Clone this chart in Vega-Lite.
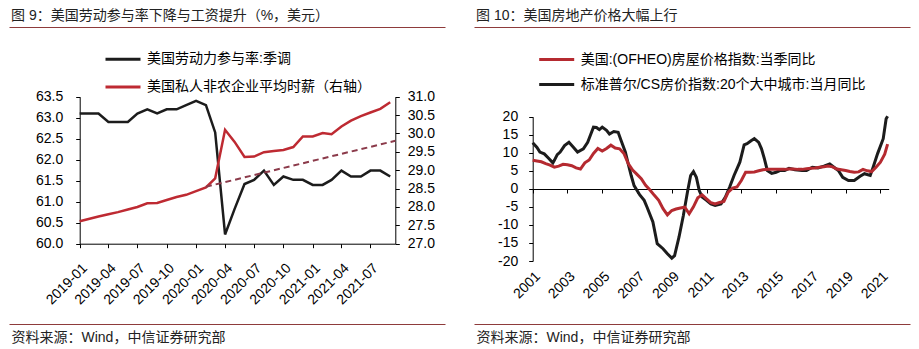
{
  "$schema": "https://vega.github.io/schema/vega-lite/v6.json",
  "padding": {"left": 8, "top": 8, "right": 5, "bottom": 5},
  "background": "white",
  "config": {
    "font": "Liberation Sans, Noto Sans CJK SC",
    "locale": {"number": {"decimal": ".", "thousands": ",", "grouping": [3], "currency": ["$", ""], "minus": "-"}},
    "view": {"stroke": "#8E3B3B", "strokeDash": [436, 297], "strokeWidth": 1},
    "axis": {"grid": false, "domainColor": "#000", "tickColor": "#000", "labelColor": "#000", "labelFontSize": 14, "tickSize": 4, "labelOverlap": false, "labelFlush": false, "titleFontWeight": "normal", "titleFontSize": 14, "titleColor": "#222"},
    "title": {"fontSize": 14, "fontWeight": "normal", "color": "#222", "anchor": "start", "frame": "group", "offset": 4, "dx": 2},
    "legend": {"orient": "none", "title": null, "symbolType": "stroke", "symbolSize": 1225, "symbolStrokeWidth": 3, "labelFontSize": 14, "labelColor": "#000", "labelOffset": 5, "labelLimit": 500, "clipHeight": 16, "padding": 0}
  },
  "datasets": {
    "lfp": [
      {"date": "2019/01/01", "lfpr": 63.1, "wage": 27.61},
      {"date": "2019/02/01", "lfpr": 63.1, "wage": 27.68},
      {"date": "2019/03/01", "lfpr": 63.1, "wage": 27.74},
      {"date": "2019/04/01", "lfpr": 62.9, "wage": 27.80},
      {"date": "2019/05/01", "lfpr": 62.9, "wage": 27.86},
      {"date": "2019/06/01", "lfpr": 62.9, "wage": 27.93},
      {"date": "2019/07/01", "lfpr": 63.1, "wage": 28.00},
      {"date": "2019/08/01", "lfpr": 63.2, "wage": 28.10},
      {"date": "2019/09/01", "lfpr": 63.1, "wage": 28.11},
      {"date": "2019/10/01", "lfpr": 63.2, "wage": 28.19},
      {"date": "2019/11/01", "lfpr": 63.2, "wage": 28.27},
      {"date": "2019/12/01", "lfpr": 63.3, "wage": 28.33},
      {"date": "2020/01/01", "lfpr": 63.4, "wage": 28.43},
      {"date": "2020/02/01", "lfpr": 63.3, "wage": 28.53},
      {"date": "2020/03/01", "lfpr": 62.65, "wage": 28.78},
      {"date": "2020/04/01", "lfpr": 60.22, "wage": 30.10},
      {"date": "2020/05/01", "lfpr": 60.83, "wage": 29.77},
      {"date": "2020/06/01", "lfpr": 61.42, "wage": 29.36},
      {"date": "2020/07/01", "lfpr": 61.52, "wage": 29.37},
      {"date": "2020/08/01", "lfpr": 61.74, "wage": 29.49},
      {"date": "2020/09/01", "lfpr": 61.40, "wage": 29.52},
      {"date": "2020/10/01", "lfpr": 61.60, "wage": 29.55},
      {"date": "2020/11/01", "lfpr": 61.52, "wage": 29.63},
      {"date": "2020/12/01", "lfpr": 61.52, "wage": 29.92},
      {"date": "2021/01/01", "lfpr": 61.40, "wage": 29.92},
      {"date": "2021/02/01", "lfpr": 61.40, "wage": 30.01},
      {"date": "2021/03/01", "lfpr": 61.52, "wage": 29.98},
      {"date": "2021/04/01", "lfpr": 61.74, "wage": 30.19},
      {"date": "2021/05/01", "lfpr": 61.60, "wage": 30.35},
      {"date": "2021/06/01", "lfpr": 61.60, "wage": 30.47},
      {"date": "2021/07/01", "lfpr": 61.74, "wage": 30.57},
      {"date": "2021/08/01", "lfpr": 61.74, "wage": 30.67},
      {"date": "2021/09/01", "lfpr": 61.60, "wage": 30.85}
    ],
    "trend": [
      {"date": "2020/02/01", "wage": 28.55},
      {"date": "2021/09/17", "wage": 29.80}
    ],
    "cs": [
      {"date": "2001/01/01", "v": 12.8}, {"date": "2001/04/01", "v": 11.5}, {"date": "2001/06/01", "v": 10.2},
      {"date": "2001/09/01", "v": 9.7}, {"date": "2001/12/01", "v": 8.5}, {"date": "2002/03/01", "v": 7.2},
      {"date": "2002/04/01", "v": 7.9}, {"date": "2002/06/01", "v": 9.5}, {"date": "2002/08/01", "v": 10.2},
      {"date": "2002/11/01", "v": 12.0}, {"date": "2003/02/01", "v": 12.9}, {"date": "2003/05/01", "v": 11.6},
      {"date": "2003/08/01", "v": 10.2}, {"date": "2003/12/01", "v": 11.1}, {"date": "2004/03/01", "v": 12.9},
      {"date": "2004/05/01", "v": 15.0}, {"date": "2004/07/01", "v": 17.1}, {"date": "2004/09/01", "v": 17.0},
      {"date": "2004/11/01", "v": 16.4}, {"date": "2005/01/01", "v": 17.1}, {"date": "2005/04/01", "v": 16.2},
      {"date": "2005/06/01", "v": 15.2}, {"date": "2005/09/01", "v": 15.9}, {"date": "2005/12/01", "v": 15.7},
      {"date": "2006/02/01", "v": 13.4}, {"date": "2006/05/01", "v": 10.2}, {"date": "2006/07/01", "v": 6.9},
      {"date": "2006/09/01", "v": 3.7}, {"date": "2006/11/01", "v": 0.9}, {"date": "2007/03/01", "v": -1.7},
      {"date": "2007/06/01", "v": -3.2}, {"date": "2007/08/01", "v": -5.1}, {"date": "2007/12/01", "v": -9.2},
      {"date": "2008/03/01", "v": -15.2}, {"date": "2008/07/01", "v": -16.6}, {"date": "2008/10/01", "v": -18.0},
      {"date": "2009/01/01", "v": -19.2}, {"date": "2009/03/01", "v": -18.5}, {"date": "2009/06/01", "v": -13.4},
      {"date": "2009/09/01", "v": -7.4}, {"date": "2009/12/01", "v": -0.5}, {"date": "2010/02/01", "v": 3.7},
      {"date": "2010/04/01", "v": 4.8}, {"date": "2010/06/01", "v": 3.2}, {"date": "2010/08/01", "v": -0.5},
      {"date": "2010/10/01", "v": -2.3}, {"date": "2011/01/01", "v": -3.2}, {"date": "2011/04/01", "v": -4.2},
      {"date": "2011/07/01", "v": -4.6}, {"date": "2011/11/01", "v": -4.2}, {"date": "2012/02/01", "v": -2.3},
      {"date": "2012/05/01", "v": 0.5}, {"date": "2012/08/01", "v": 3.7}, {"date": "2012/12/01", "v": 7.4},
      {"date": "2013/03/01", "v": 12.2}, {"date": "2013/05/01", "v": 12.5}, {"date": "2013/08/01", "v": 13.4},
      {"date": "2013/10/01", "v": 13.9}, {"date": "2014/01/01", "v": 12.9}, {"date": "2014/03/01", "v": 11.1},
      {"date": "2014/05/01", "v": 8.3}, {"date": "2014/07/01", "v": 5.1}, {"date": "2014/10/01", "v": 4.3},
      {"date": "2015/01/01", "v": 4.6}, {"date": "2015/04/01", "v": 5.1}, {"date": "2015/07/01", "v": 5.1},
      {"date": "2015/10/01", "v": 5.7}, {"date": "2016/02/01", "v": 5.3}, {"date": "2016/07/01", "v": 5.1},
      {"date": "2016/10/01", "v": 5.1}, {"date": "2017/02/01", "v": 6.0}, {"date": "2017/06/01", "v": 5.8},
      {"date": "2017/10/01", "v": 6.3}, {"date": "2018/02/01", "v": 6.9}, {"date": "2018/05/01", "v": 6.0},
      {"date": "2018/08/01", "v": 5.1}, {"date": "2018/11/01", "v": 3.2}, {"date": "2019/03/01", "v": 2.3},
      {"date": "2019/07/01", "v": 2.3}, {"date": "2019/11/01", "v": 3.5}, {"date": "2020/02/01", "v": 4.2},
      {"date": "2020/06/01", "v": 3.7}, {"date": "2020/08/01", "v": 6.0}, {"date": "2020/11/01", "v": 9.7},
      {"date": "2021/03/01", "v": 13.9}, {"date": "2021/05/01", "v": 19.4}, {"date": "2021/06/01", "v": 20.1}
    ],
    "ofheo": [
      {"date": "2001/01/01", "v": 7.9}, {"date": "2001/04/01", "v": 7.7}, {"date": "2001/07/01", "v": 7.5}, {"date": "2001/10/01", "v": 7.0},
      {"date": "2002/01/01", "v": 6.6}, {"date": "2002/04/01", "v": 6.0}, {"date": "2002/07/01", "v": 6.3}, {"date": "2002/10/01", "v": 6.8},
      {"date": "2003/01/01", "v": 6.7}, {"date": "2003/04/01", "v": 6.4}, {"date": "2003/07/01", "v": 5.8}, {"date": "2003/10/01", "v": 5.5},
      {"date": "2004/01/01", "v": 7.2}, {"date": "2004/04/01", "v": 8.0}, {"date": "2004/07/01", "v": 9.8}, {"date": "2004/10/01", "v": 11.2},
      {"date": "2005/01/01", "v": 10.5}, {"date": "2005/04/01", "v": 11.2}, {"date": "2005/07/01", "v": 12.1}, {"date": "2005/10/01", "v": 11.3},
      {"date": "2006/01/01", "v": 11.1}, {"date": "2006/04/01", "v": 9.8}, {"date": "2006/07/01", "v": 7.0}, {"date": "2006/10/01", "v": 5.2},
      {"date": "2007/01/01", "v": 4.0}, {"date": "2007/04/01", "v": 2.8}, {"date": "2007/07/01", "v": 1.0}, {"date": "2007/10/01", "v": -0.3},
      {"date": "2008/01/01", "v": -1.8}, {"date": "2008/04/01", "v": -3.2}, {"date": "2008/07/01", "v": -5.5}, {"date": "2008/10/01", "v": -7.2},
      {"date": "2009/01/01", "v": -6.0}, {"date": "2009/04/01", "v": -5.6}, {"date": "2009/07/01", "v": -5.3}, {"date": "2009/10/01", "v": -5.1},
      {"date": "2010/01/01", "v": -6.9}, {"date": "2010/04/01", "v": -5.0}, {"date": "2010/07/01", "v": -2.5}, {"date": "2010/10/01", "v": -1.7},
      {"date": "2011/01/01", "v": -2.8}, {"date": "2011/04/01", "v": -3.8}, {"date": "2011/07/01", "v": -4.2}, {"date": "2011/10/01", "v": -3.8},
      {"date": "2012/01/01", "v": -3.5}, {"date": "2012/04/01", "v": -0.9}, {"date": "2012/07/01", "v": 0.2}, {"date": "2012/10/01", "v": 0.5},
      {"date": "2013/01/01", "v": 2.3}, {"date": "2013/04/01", "v": 4.6}, {"date": "2013/07/01", "v": 4.6}, {"date": "2013/10/01", "v": 4.7},
      {"date": "2014/01/01", "v": 5.0}, {"date": "2014/04/01", "v": 5.3}, {"date": "2014/07/01", "v": 5.4}, {"date": "2014/10/01", "v": 5.4},
      {"date": "2015/01/01", "v": 5.4}, {"date": "2015/04/01", "v": 5.4}, {"date": "2015/07/01", "v": 5.4}, {"date": "2015/10/01", "v": 5.5},
      {"date": "2016/01/01", "v": 5.5}, {"date": "2016/04/01", "v": 5.4}, {"date": "2016/07/01", "v": 5.4}, {"date": "2016/10/01", "v": 5.6},
      {"date": "2017/01/01", "v": 5.7}, {"date": "2017/04/01", "v": 5.8}, {"date": "2017/07/01", "v": 6.0}, {"date": "2017/10/01", "v": 6.1},
      {"date": "2018/01/01", "v": 6.3}, {"date": "2018/04/01", "v": 6.1}, {"date": "2018/07/01", "v": 5.5}, {"date": "2018/10/01", "v": 5.3},
      {"date": "2019/01/01", "v": 5.1}, {"date": "2019/04/01", "v": 4.8}, {"date": "2019/07/01", "v": 4.6}, {"date": "2019/10/01", "v": 4.7},
      {"date": "2020/01/01", "v": 5.4}, {"date": "2020/04/01", "v": 5.0}, {"date": "2020/07/01", "v": 4.8}, {"date": "2020/10/01", "v": 6.0},
      {"date": "2021/01/01", "v": 7.4}, {"date": "2021/04/01", "v": 9.6}, {"date": "2021/06/01", "v": 12.4}
    ]
  },
  "hconcat": [
    {
      "width": 436,
      "height": 297,
      "title": {"text": "图 9：美国劳动参与率下降与工资提升（%，美元）"},
      "layer": [
        {
          "data": {"name": "lfp"},
          "mark": {"type": "line", "strokeWidth": 2.5},
          "encoding": {
            "x": {
              "field": "date", "type": "temporal",
              "scale": {"domain": [{"year": 2019, "month": 1, "date": 1}, {"year": 2021, "month": 9, "date": 17}], "range": [70.7, 386.3], "nice": false},
              "axis": {
                "values": [
                  {"year": 2019, "month": 1, "date": 1}, {"year": 2019, "month": 4, "date": 1}, {"year": 2019, "month": 7, "date": 1}, {"year": 2019, "month": 10, "date": 1},
                  {"year": 2020, "month": 1, "date": 1}, {"year": 2020, "month": 4, "date": 1}, {"year": 2020, "month": 7, "date": 1}, {"year": 2020, "month": 10, "date": 1},
                  {"year": 2021, "month": 1, "date": 1}, {"year": 2021, "month": 4, "date": 1}, {"year": 2021, "month": 7, "date": 1}
                ],
                "format": "%Y-%m", "labelAngle": -45, "offset": -80.3, "labelPadding": 13, "labelOverlap": false,
                "title": "资料来源：Wind，中信证券研究部", "titleX": 2, "titleY": 94, "titleAlign": "left", "titleBaseline": "middle", "titleAnchor": "start"
              }
            },
            "y": {
              "field": "lfpr", "type": "quantitative",
              "scale": {"domain": [60, 63.5], "range": [216.7, 69.7], "nice": false, "zero": false},
              "axis": {"values": [60, 60.5, 61, 61.5, 62, 62.5, 63, 63.5], "format": ".1f", "offset": -70.7, "title": null, "labelPadding": 13, "orient": "left", "labelOverlap": false}
            },
            "color": {
              "datum": "美国劳动力参与率:季调", "type": "nominal",
              "scale": {"domain": ["美国劳动力参与率:季调", "美国私人非农企业平均时薪（右轴）"], "range": ["#1c1c1c", "#BE2A32"]},
              "legend": {"legendX": 95, "legendY": 24.3, "rowPadding": 11.7}
            }
          }
        },
        {
          "layer": [
            {
              "data": {"name": "lfp"},
              "mark": {"type": "line", "strokeWidth": 2.5},
              "encoding": {
                "x": {"field": "date", "type": "temporal"},
                "y": {
                  "field": "wage", "type": "quantitative",
                  "scale": {"domain": [27, 31], "range": [216.7, 69.7], "nice": false, "zero": false},
                  "axis": {"values": [27, 27.5, 28, 28.5, 29, 29.5, 30, 30.5, 31], "format": ".1f", "offset": -49.7, "title": null, "labelPadding": 8, "orient": "right", "labelOverlap": false}
                },
                "color": {"datum": "美国私人非农企业平均时薪（右轴）", "type": "nominal"}
              }
            },
            {
              "data": {"name": "trend"},
              "mark": {"type": "line", "strokeWidth": 2, "strokeDash": [6, 4], "color": "#8B3A4A"},
              "encoding": {
                "x": {"field": "date", "type": "temporal"},
                "y": {
                  "field": "wage", "type": "quantitative",
                  "axis": {"values": [27, 27.5, 28, 28.5, 29, 29.5, 30, 30.5, 31], "format": ".1f", "offset": -49.7, "title": null, "labelPadding": 8, "orient": "right", "labelOverlap": false}
                }
              }
            }
          ]
        }
      ],
      "resolve": {"scale": {"y": "independent"}}
    },
    {
      "width": 436,
      "height": 297,
      "title": {"text": "图 10：美国房地产价格大幅上行"},
      "layer": [
        {
          "data": {"name": "cs"},
          "mark": {"type": "line", "strokeWidth": 3},
          "encoding": {
            "x": {
              "field": "date", "type": "temporal",
              "scale": {"domain": [{"year": 2001, "month": 1, "date": 1}, {"year": 2021, "month": 6, "date": 24}], "range": [58.7, 414.7], "nice": false},
              "axis": {
                "values": [{"year": 2001}, {"year": 2003}, {"year": 2005}, {"year": 2007}, {"year": 2009}, {"year": 2011}, {"year": 2013}, {"year": 2015}, {"year": 2017}, {"year": 2019}, {"year": 2021}],
                "format": "%Y", "labelAngle": -45, "offset": -135, "labelPadding": 76, "labelOverlap": false,
                "title": "资料来源：Wind，中信证券研究部", "titleX": 2, "titleY": 148.7, "titleAlign": "left", "titleBaseline": "middle", "titleAnchor": "start"
              }
            },
            "y": {
              "field": "v", "type": "quantitative",
              "scale": {"domain": [-20, 20], "range": [234, 89.7], "nice": false, "zero": false},
              "axis": {"values": [-20, -15, -10, -5, 0, 5, 10, 15, 20], "format": "d", "offset": -58.7, "title": null, "labelPadding": 11, "labelOverlap": false}
            },
            "color": {
              "datum": "标准普尔/CS房价指数:20个大中城市:当月同比", "type": "nominal",
              "scale": {"domain": ["美国:(OFHEO)房屋价格指数:当季同比", "标准普尔/CS房价指数:20个大中城市:当月同比"], "range": ["#B52A30", "#1c1c1c"]},
              "legend": {"legendX": 63.7, "legendY": 24.5, "rowPadding": 9}
            }
          }
        },
        {
          "data": {"name": "ofheo"},
          "mark": {"type": "line", "strokeWidth": 3},
          "encoding": {
            "x": {"field": "date", "type": "temporal"},
            "y": {
              "field": "v", "type": "quantitative",
              "axis": {"values": [-20, -15, -10, -5, 0, 5, 10, 15, 20], "format": "d", "offset": -58.7, "title": null, "labelPadding": 11, "labelOverlap": false}
            },
            "color": {"datum": "美国:(OFHEO)房屋价格指数:当季同比", "type": "nominal"}
          }
        }
      ]
    }
  ],
  "spacing": 29,
  "bounds": "flush",
  "resolve": {"scale": {"color": "independent"}, "legend": {"color": "independent"}}
}
